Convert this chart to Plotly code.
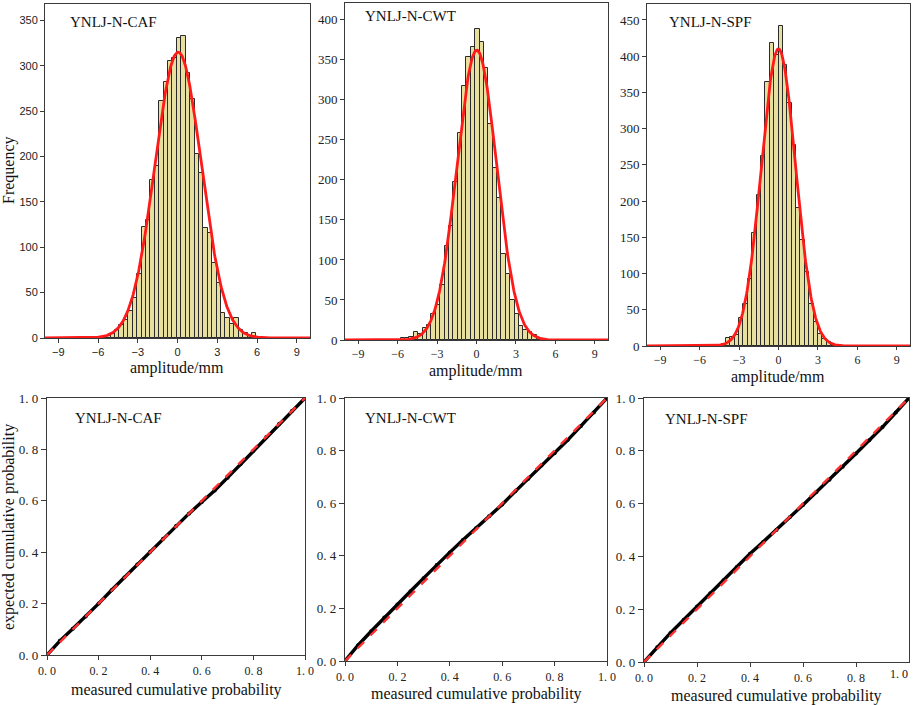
import numpy as np
import plotly.graph_objects as go

# ---------------- data ----------------
BIN_W = 1 / 3
panel_names = ["YNLJ-N-CAF", "YNLJ-N-CWT", "YNLJ-N-SPF"]

# histogram: left edge of first bin and counts per bin (bin width 1/3 mm)
caf_first_edge = -5.717
caf_counts = [1, 2, 4, 9, 14, 20, 30, 44, 70, 122, 130, 174, 189, 261, 282, 305, 308,
              331, 333, 292, 263, 203, 182, 121, 116, 83, 61, 28, 22, 15, 22, 9, 5, 2, 5]
cwt_first_edge = -5.767
cwt_counts = [2, 3, 4, 10, 8, 15, 19, 33, 44, 69, 118, 143, 197, 259, 317, 354, 366,
              389, 372, 340, 270, 215, 178, 107, 82, 50, 33, 18, 12, 10, 6, 3]
spf_first_edge = -5.0
spf_counts = [1, 2, 3, 11, 12, 15, 38, 58, 93, 156, 208, 262, 364, 418, 402, 441, 388,
              335, 277, 190, 146, 102, 58, 33, 17, 10, 5, 2]

# fitted normal curves (mean, sd, peak height)
caf_fit = (0.05, 1.75, 315)
cwt_fit = (0.02, 1.50, 362)
spf_fit = (0.00, 1.30, 410)

freq_ymax = [368, 421, 472]
freq_ticks_top = [350, 400, 450]

# P-P plots
pp_measured = [0, 0.05, 0.1, 0.15, 0.2, 0.25, 0.3, 0.35, 0.4, 0.45, 0.5, 0.55, 0.6,
               0.65, 0.7, 0.75, 0.8, 0.85, 0.9, 0.95, 1.0]
caf_expected = [0, 0.055, 0.102, 0.15, 0.2, 0.252, 0.302, 0.352, 0.402, 0.452, 0.502,
                0.55, 0.595, 0.64, 0.69, 0.742, 0.795, 0.848, 0.9, 0.95, 1.0]
cwt_expected = [0, 0.06, 0.113, 0.165, 0.215, 0.265, 0.315, 0.365, 0.413, 0.46, 0.505,
                0.55, 0.595, 0.645, 0.693, 0.743, 0.79, 0.84, 0.893, 0.945, 1.0]
spf_expected = [0, 0.056, 0.11, 0.16, 0.21, 0.26, 0.31, 0.36, 0.41, 0.455, 0.5,
                0.548, 0.595, 0.643, 0.69, 0.74, 0.79, 0.84, 0.89, 0.945, 1.0]

amp_ticks = [-9, -6, -3, 0, 3, 6, 9]
prob_ticks = [0, 0.2, 0.4, 0.6, 0.8, 1.0]
prob_ticktext = ["0. 0", "0. 2", "0. 4", "0. 6", "0. 8", "1. 0"]

# ---------------- figure ----------------
W, H = 913, 705
fig = go.Figure()

def px_x(a, b):
    return [a / W, b / W]

def px_y(top, bottom):
    return [1 - bottom / H, 1 - top / H]

top_dom_x = [px_x(45, 310), px_x(345, 608), px_x(647, 910)]
top_dom_y = [px_y(4, 338), px_y(3, 340), px_y(4, 346)]
bot_dom_x = [px_x(47, 305), px_x(345, 607), px_x(644, 909)]
bot_dom_y = [px_y(398, 655), px_y(398, 661), px_y(398, 662)]

hist = [(caf_first_edge, caf_counts, caf_fit),
        (cwt_first_edge, cwt_counts, cwt_fit),
        (spf_first_edge, spf_counts, spf_fit)]
pp = [caf_expected, cwt_expected, spf_expected]

SERIF = "Liberation Serif, Times New Roman, serif"
SANS = "Liberation Sans, Arial, sans-serif"
AXC = "#3a3a3a"

xgrid = np.linspace(-10, 10, 500)
layout_axes = {}
for i in range(3):
    first_edge, counts, fit = hist[i]
    counts = np.array(counts, dtype=float)
    centers = first_edge + (np.arange(len(counts)) + 0.5) * BIN_W
    xa, ya = f"x{i+1}", f"y{i+1}"
    fig.add_trace(go.Bar(x=centers, y=counts, width=BIN_W, xaxis=xa, yaxis=ya,
                         marker=dict(color="#e6df9e", line=dict(color="#2b2b2b", width=1)),
                         showlegend=False))
    m, s, pk = fit
    fig.add_trace(go.Scatter(x=xgrid, y=pk * np.exp(-(xgrid - m) ** 2 / (2 * s ** 2)),
                             mode="lines", line=dict(color="#ff1a1a", width=2.8),
                             xaxis=xa, yaxis=ya, showlegend=False))
    tsize = 11 if i == 0 else 12
    tickfont = dict(family=SANS if i == 0 else SERIF, size=tsize, color="#222")
    layout_axes[f"xaxis{i+1}" if i else "xaxis"] = dict(
        domain=top_dom_x[i], anchor=ya, range=[-10, 10], tickvals=amp_ticks,
        ticks="outside", ticklen=4 if i == 0 else 3, tickcolor=AXC, showline=True,
        linecolor=AXC, mirror=True, showgrid=False, zeroline=False, tickfont=tickfont,
        automargin=False)
    layout_axes[f"yaxis{i+1}" if i else "yaxis"] = dict(
        domain=top_dom_y[i], anchor=xa, range=[0, freq_ymax[i]],
        tickvals=list(range(0, freq_ticks_top[i] + 1, 50)),
        ticks="outside", ticklen=4, tickcolor=AXC, showline=True, linecolor=AXC,
        mirror=True, showgrid=False, zeroline=False,
        tickfont=dict(family=tickfont["family"], size=11 if i == 0 else 13, color="#222"),
        automargin=False)

for i in range(3):
    j = i + 4
    xa, ya = f"x{j}", f"y{j}"
    fig.add_trace(go.Scatter(x=pp_measured, y=pp[i], mode="lines+markers",
                             line=dict(color="black", width=3.4),
                             marker=dict(color="black", size=4),
                             xaxis=xa, yaxis=ya, showlegend=False))
    fig.add_trace(go.Scatter(x=[0, 1], y=[0, 1], mode="lines",
                             line=dict(color="#ff3030", width=2.4, dash="dash"),
                             xaxis=xa, yaxis=ya, showlegend=False))
    # the last x label of the right-hand panel is placed as text so it is not clipped
    xt_vals = prob_ticks if i < 2 else prob_ticks[:-1]
    xt_text = prob_ticktext if i < 2 else prob_ticktext[:-1]
    layout_axes[f"xaxis{j}"] = dict(
        domain=bot_dom_x[i], anchor=ya, range=[0, 1], tickvals=xt_vals,
        ticktext=xt_text, ticks="outside", ticklen=4, tickcolor=AXC,
        showline=True, linecolor=AXC, linewidth=1.2, mirror=True, showgrid=False,
        zeroline=False, tickfont=dict(family=SERIF, size=12, color="#222"),
        automargin=False)
    layout_axes[f"yaxis{j}"] = dict(
        domain=bot_dom_y[i], anchor=xa, range=[0, 1], tickvals=prob_ticks,
        ticktext=prob_ticktext, ticks="outside", ticklen=5, tickcolor=AXC,
        showline=True, linecolor=AXC, linewidth=1.2, mirror=True, showgrid=False,
        zeroline=False, tickfont=dict(family=SERIF, size=13, color="#222"),
        automargin=False)

ann = []
def text(x, y, s, size=16, angle=0, xanchor="center", yanchor="middle"):
    ann.append(dict(x=x / W, y=1 - y / H, xref="paper", yref="paper", text=s,
                    showarrow=False, textangle=angle, xanchor=xanchor, yanchor=yanchor,
                    font=dict(family=SERIF, size=size, color="#111")))

# panel labels
text(68, 22, panel_names[0], 15, xanchor="left")
text(363, 16, panel_names[1], 15, xanchor="left")
text(667, 22, panel_names[2], 15, xanchor="left")
text(73, 418, panel_names[0], 15, xanchor="left")
text(363, 418, panel_names[1], 15, xanchor="left")
text(663, 419, panel_names[2], 15, xanchor="left")
# axis titles
text(177, 368, "amplitude/mm")
text(476, 371, "amplitude/mm")
text(778, 377, "amplitude/mm")
text(176, 690, "measured cumulative probability")
text(476, 694, "measured cumulative probability")
text(776, 696, "measured cumulative probability")
text(9, 170, "Frequency", angle=-90)
text(9, 527, "expected cumulative probability", angle=-90)
# clipped tick label at the right edge
text(910, 674, prob_ticktext[-1], 12, xanchor="right")

fig.update_layout(width=W, height=H, margin=dict(l=0, r=0, t=0, b=0, autoexpand=False),
                  paper_bgcolor="white", plot_bgcolor="white", showlegend=False,
                  bargap=0, annotations=ann, **layout_axes)

fig.write_html("out.html", config={"displayModeBar": False},
               post_script="document.body.style.margin='0';"
                           "document.body.style.overflow='hidden';")
